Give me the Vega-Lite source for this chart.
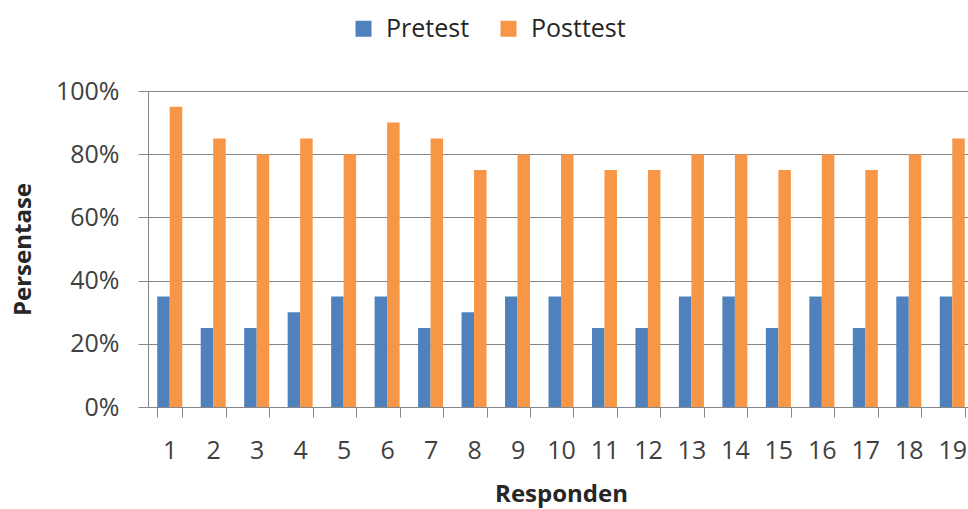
{
  "$schema": "https://vega.github.io/schema/vega-lite/v6.json",
  "width": 826,
  "height": 316,
  "autosize": "none",
  "padding": {"left": 148, "top": 91, "right": 0, "bottom": 102},
  "background": "white",
  "config": {
    "font": "Open Sans",
    "view": {"stroke": null}
  },
  "data": {
    "values": [
      {"Responden": "1", "Tes": "Pretest", "Nilai": 0.35},
      {"Responden": "1", "Tes": "Posttest", "Nilai": 0.95},
      {"Responden": "2", "Tes": "Pretest", "Nilai": 0.25},
      {"Responden": "2", "Tes": "Posttest", "Nilai": 0.85},
      {"Responden": "3", "Tes": "Pretest", "Nilai": 0.25},
      {"Responden": "3", "Tes": "Posttest", "Nilai": 0.8},
      {"Responden": "4", "Tes": "Pretest", "Nilai": 0.3},
      {"Responden": "4", "Tes": "Posttest", "Nilai": 0.85},
      {"Responden": "5", "Tes": "Pretest", "Nilai": 0.35},
      {"Responden": "5", "Tes": "Posttest", "Nilai": 0.8},
      {"Responden": "6", "Tes": "Pretest", "Nilai": 0.35},
      {"Responden": "6", "Tes": "Posttest", "Nilai": 0.9},
      {"Responden": "7", "Tes": "Pretest", "Nilai": 0.25},
      {"Responden": "7", "Tes": "Posttest", "Nilai": 0.85},
      {"Responden": "8", "Tes": "Pretest", "Nilai": 0.3},
      {"Responden": "8", "Tes": "Posttest", "Nilai": 0.75},
      {"Responden": "9", "Tes": "Pretest", "Nilai": 0.35},
      {"Responden": "9", "Tes": "Posttest", "Nilai": 0.8},
      {"Responden": "10", "Tes": "Pretest", "Nilai": 0.35},
      {"Responden": "10", "Tes": "Posttest", "Nilai": 0.8},
      {"Responden": "11", "Tes": "Pretest", "Nilai": 0.25},
      {"Responden": "11", "Tes": "Posttest", "Nilai": 0.75},
      {"Responden": "12", "Tes": "Pretest", "Nilai": 0.25},
      {"Responden": "12", "Tes": "Posttest", "Nilai": 0.75},
      {"Responden": "13", "Tes": "Pretest", "Nilai": 0.35},
      {"Responden": "13", "Tes": "Posttest", "Nilai": 0.8},
      {"Responden": "14", "Tes": "Pretest", "Nilai": 0.35},
      {"Responden": "14", "Tes": "Posttest", "Nilai": 0.8},
      {"Responden": "15", "Tes": "Pretest", "Nilai": 0.25},
      {"Responden": "15", "Tes": "Posttest", "Nilai": 0.75},
      {"Responden": "16", "Tes": "Pretest", "Nilai": 0.35},
      {"Responden": "16", "Tes": "Posttest", "Nilai": 0.8},
      {"Responden": "17", "Tes": "Pretest", "Nilai": 0.25},
      {"Responden": "17", "Tes": "Posttest", "Nilai": 0.75},
      {"Responden": "18", "Tes": "Pretest", "Nilai": 0.35},
      {"Responden": "18", "Tes": "Posttest", "Nilai": 0.8},
      {"Responden": "19", "Tes": "Pretest", "Nilai": 0.35},
      {"Responden": "19", "Tes": "Posttest", "Nilai": 0.85}
    ]
  },
  "mark": {"type": "bar"},
  "encoding": {
    "x": {
      "field": "Responden",
      "type": "ordinal",
      "sort": null,
      "title": "Responden",
      "scale": {"paddingInner": 0.425, "paddingOuter": 0.2125},
      "axis": {
        "labelAngle": 0,
        "labelFontSize": 25,
        "labelColor": "#404040",
        "labelPadding": 21,
        "tickBand": "extent",
        "tickSize": 10,
        "tickColor": "#868686",
        "domainColor": "#868686",
        "titleFontSize": 24,
        "titleFontWeight": "bold",
        "titleColor": "#262626",
        "titlePadding": 19
      }
    },
    "xOffset": {"field": "Tes", "sort": ["Pretest", "Posttest"]},
    "y": {
      "field": "Nilai",
      "type": "quantitative",
      "title": "Persentase",
      "scale": {"domain": [0, 1]},
      "axis": {
        "values": [0, 0.2, 0.4, 0.6, 0.8, 1],
        "format": ".0%",
        "labelFontSize": 25,
        "labelColor": "#404040",
        "labelPadding": 19,
        "tickSize": 10,
        "tickColor": "#868686",
        "domainColor": "#868686",
        "gridColor": "#868686",
        "titleFontSize": 24,
        "titleFontWeight": "bold",
        "titleColor": "#262626",
        "titlePadding": 20
      }
    },
    "color": {
      "field": "Tes",
      "type": "nominal",
      "sort": ["Pretest", "Posttest"],
      "scale": {"domain": ["Pretest", "Posttest"], "range": ["#4F81BD", "#F79646"]},
      "legend": {
        "title": null,
        "orient": "none",
        "direction": "horizontal",
        "legendX": 203,
        "legendY": -75,
        "symbolType": "square",
        "symbolSize": 256,
        "symbolStrokeWidth": 0,
        "symbolOpacity": 1,
        "labelFontSize": 25,
        "labelColor": "#262626",
        "columnPadding": 26,
        "labelOffset": 10
      }
    }
  }
}
